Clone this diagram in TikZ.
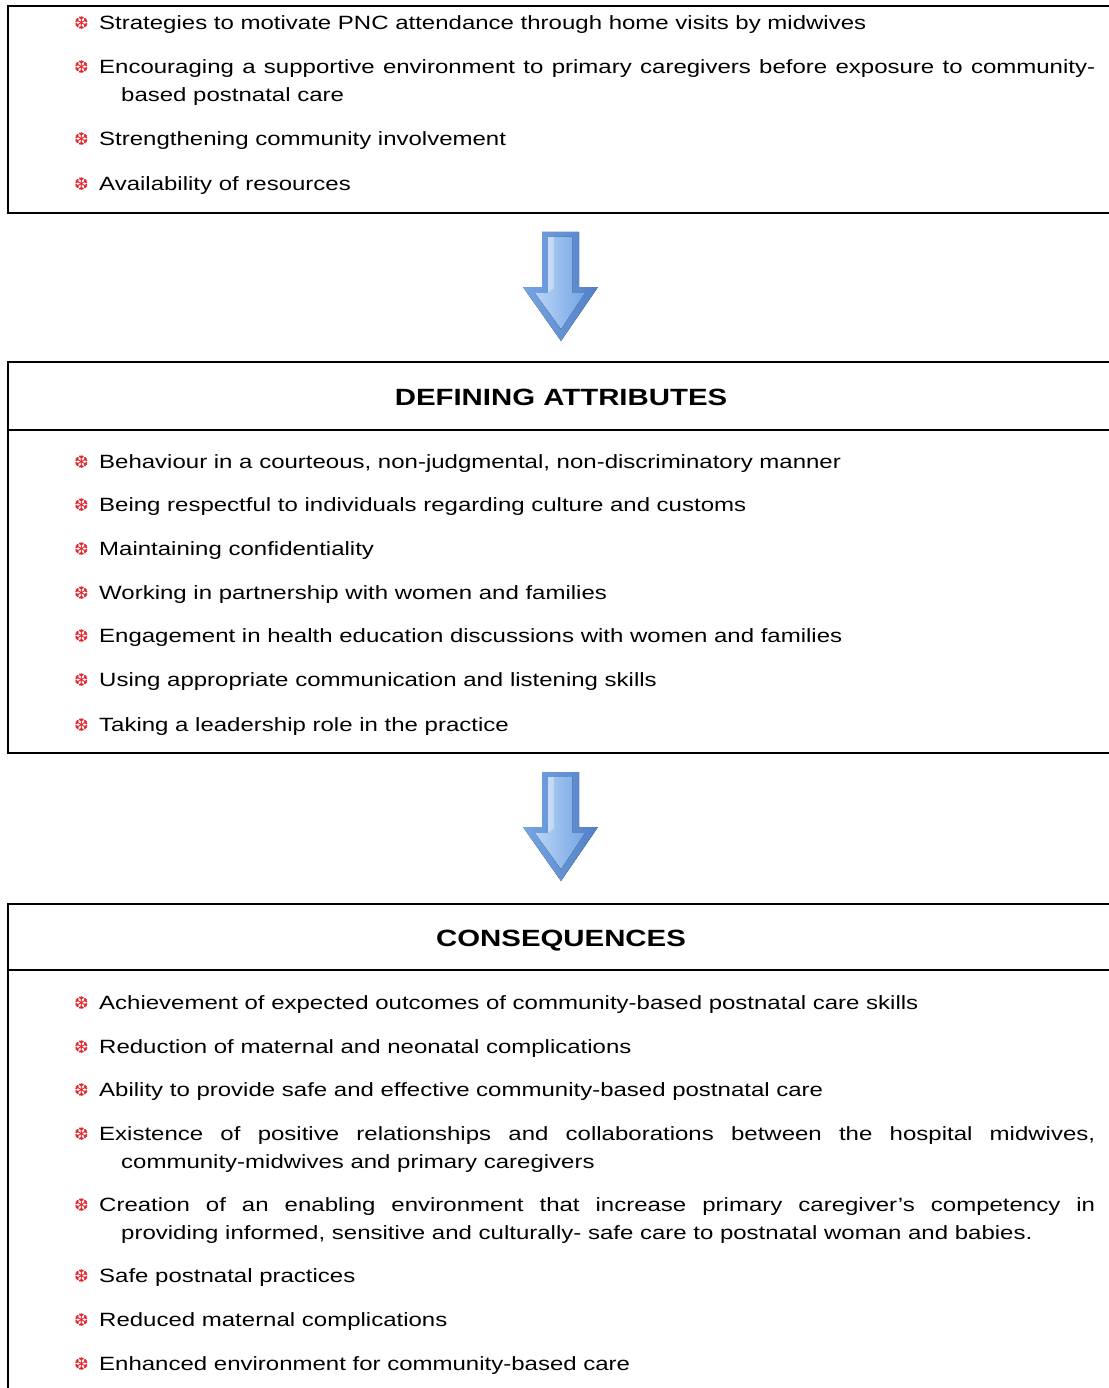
\documentclass[tikz,border=0pt]{standalone}
\usepackage{fontspec}
\setmainfont{Liberation Sans}[FakeStretch=1.25]
\newfontfamily\snowfont{DejaVu Sans}
\definecolor{bulletred}{RGB}{225,35,42}
\definecolor{arrowedge}{RGB}{82,128,198}
\definecolor{arrowmid}{RGB}{118,165,228}
\definecolor{arrowlight}{RGB}{185,213,247}

% red snowflake bullet, followed by the gap before the item text
\newcommand{\snowbullet}{\makebox[25pt][l]{\raisebox{0.3pt}{\snowfont\fontsize{17.5}{17.5}\selectfont\color{bulletred}❆}}}
% one bulleted item: justified paragraph with hanging indent, baseline = first line
\newcommand{\itemtext}[1]{\vtop{\hsize=1021pt\parindent=0pt\hangindent=47pt\hangafter=1\relax
  \fontsize{19.2}{27.6}\selectfont\tolerance=9999\snowbullet#1\par}}
\newcommand{\headtext}[1]{\fontsize{23.5}{28}\selectfont\bfseries #1}

\tikzset{
  boxline/.style={draw=black, line width=2pt},
  listitem/.style={anchor=base west, inner sep=0pt},
  heading/.style={anchor=base, inner sep=0pt},
  pics/bluearrow/.style={code={
    \fill[left color=arrowmid, right color=arrowedge]
      (-19,0) -- (18,0) -- (18,55) -- (37,55) -- (0,109) -- (-38,55) -- (-19,55) -- cycle;
    \fill[left color=arrowlight, right color=arrowmid]
      (-13,5) -- (11,5) -- (11,61) -- (24,61) -- (0,97) -- (-26,61) -- (-13,61) -- cycle;
    \fill[white, opacity=0.35]
      (-13,5) -- (-7,5) -- (-7,56) -- (-13,61) -- cycle;
  }}
}

\begin{document}
\begin{tikzpicture}[x=1pt, y=-1pt]
\useasboundingbox (0,0) rectangle (1108,1388);

% ---- box 1 ----
\draw[boxline] (1130,6) -- (8,6) -- (8,213) -- (1130,213);
\node[listitem] (s1) at (74,29.5)  {\itemtext{Strategies to motivate PNC attendance through home visits by midwives}};
\node[listitem] (s2) at (74,73.5)  {\itemtext{Encouraging a supportive environment to primary caregivers before exposure to community-\linebreak based postnatal care}};
\node[listitem] (s3) at (74,145.5) {\itemtext{Strengthening community involvement}};
\node[listitem] (s4) at (74,190.5) {\itemtext{Availability of resources}};

\pic at (561,232) {bluearrow};

% ---- box 2 ----
\draw[boxline] (1130,362) -- (8,362) -- (8,753) -- (1130,753);
\draw[boxline] (8,430) -- (1130,430);
\node[heading] (h2) at (561,405) {\headtext{DEFINING ATTRIBUTES}};
\node[listitem] (d1) at (74,468.5) {\itemtext{Behaviour in a courteous, non-judgmental, non-discriminatory manner}};
\node[listitem] (d2) at (74,511.5) {\itemtext{Being respectful to individuals regarding culture and customs}};
\node[listitem] (d3) at (74,555.5) {\itemtext{Maintaining confidentiality}};
\node[listitem] (d4) at (74,599.5) {\itemtext{Working in partnership with women and families}};
\node[listitem] (d5) at (74,642.5) {\itemtext{Engagement in health education discussions with women and families}};
\node[listitem] (d6) at (74,686.5) {\itemtext{Using appropriate communication and listening skills}};
\node[listitem] (d7) at (74,731.5) {\itemtext{Taking a leadership role in the practice}};

\pic at (561,772) {bluearrow};

% ---- box 3 ----
\draw[boxline] (1130,904) -- (8,904) -- (8,1400);
\draw[boxline] (8,970) -- (1130,970);
\node[heading] (h3) at (561,946) {\headtext{CONSEQUENCES}};
\node[listitem] (c1) at (74,1009.5) {\itemtext{Achievement of expected outcomes of community-based postnatal care skills}};
\node[listitem] (c2) at (74,1053.5) {\itemtext{Reduction of maternal and neonatal complications}};
\node[listitem] (c3) at (74,1096.5) {\itemtext{Ability to provide safe and effective community-based postnatal care}};
\node[listitem] (c4) at (74,1140.5) {\itemtext{Existence of positive relationships and collaborations between the hospital midwives,\linebreak community-midwives and primary caregivers}};
\node[listitem] (c5) at (74,1211.5) {\itemtext{Creation of an enabling environment that increase primary caregiver’s competency in\linebreak providing informed, sensitive and culturally- safe care to postnatal woman and babies.}};
\node[listitem] (c6) at (74,1282.5) {\itemtext{Safe postnatal practices}};
\node[listitem] (c7) at (74,1326.5) {\itemtext{Reduced maternal complications}};
\node[listitem] (c8) at (74,1370.5) {\itemtext{Enhanced environment for community-based care}};
\end{tikzpicture}
\end{document}
